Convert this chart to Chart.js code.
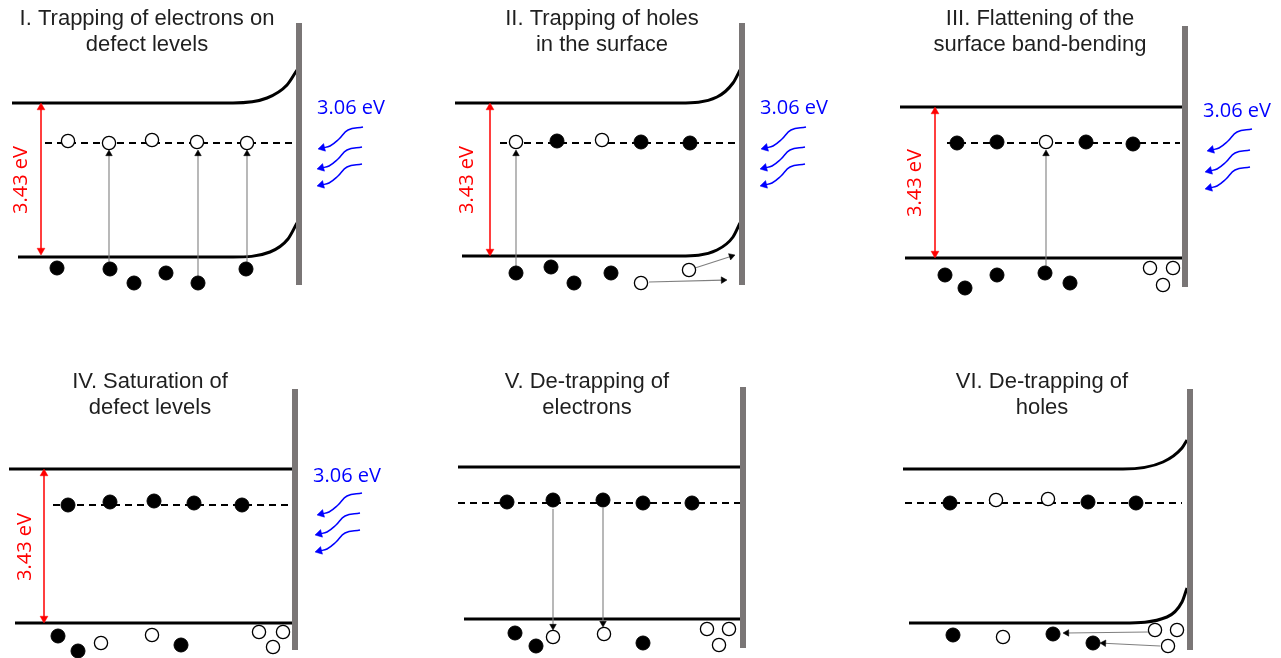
<!DOCTYPE html>
<html>
<head>
<meta charset="utf-8">
<script src="https://cdn.jsdelivr.net/npm/chart.js@4.4.1/dist/chart.umd.min.js"></script>
<style>
    html, body { margin: 0; padding: 0; background: #ffffff; }
    #wrap { width: 1281px; height: 658px; position: relative; }
</style>
</head>
<body>
<div id="wrap"><canvas id="bandChart"></canvas></div>
<script>
// panel headings
const titles = [
    ['I. Trapping of electrons on', 'defect levels'],
    ['II. Trapping of holes', 'in the surface'],
    ['III. Flattening of the', 'surface band-bending'],
    ['IV. Saturation of', 'defect levels'],
    ['V. De-trapping of', 'electrons'],
    ['VI. De-trapping of', 'holes']
];
const titleAnchors = [[147, 25], [602, 25], [1040, 25], [150, 388], [587, 388], [1042, 388]];

// band edges (x, y), one list per panel
const conductionBands = [
    [[12, 103], [233, 103], [267, 98], [287, 85], [297, 70]],
    [[455, 103], [680, 103], [717, 97], [733, 83], [740, 70]],
    [[900, 107], [1185, 107]],
    [[9, 469], [295, 469]],
    [[458, 467], [743, 467]],
    [[903, 469], [1123, 469], [1163, 462], [1182, 448], [1187, 440]]
];
const valenceBands = [
    [[18, 257], [233, 257], [270, 252], [288, 239], [297, 223]],
    [[462, 256], [680, 256], [717, 250], [733, 237], [740, 223]],
    [[905, 258], [1185, 258]],
    [[15, 623], [295, 623]],
    [[464, 619], [743, 619]],
    [[909, 623], [1123, 623], [1167, 617], [1182, 602], [1187, 588]]
];

// surface wall: x, top, bottom
const walls = [[299, 23, 285], [742, 23, 285], [1185, 26, 287], [295, 389, 650], [743, 387, 648], [1190, 389, 650]];

// defect level: x start, x end, y
const defectLines = [[45, 293, 143], [500, 742, 143], [947, 1180, 143], [53, 293, 505], [458, 743, 503], [905, 1182, 503]];

const electrons = [
    [57, 268], [110, 269], [134, 283], [166, 273], [198, 283], [246, 269],
    [557, 141], [641, 142], [690, 143], [516, 273], [551, 267], [574, 283], [611, 273],
    [957, 143], [997, 142], [1086, 142], [1133, 144], [945, 275], [965, 288], [997, 275], [1045, 273], [1070, 283],
    [68, 505], [110, 502], [154, 501], [194, 503], [242, 505], [58, 636], [78, 651], [181, 645],
    [507, 502], [553, 500], [603, 500], [643, 503], [692, 503], [515, 633], [536, 646], [643, 643],
    [950, 503], [1088, 502], [1136, 503], [953, 635], [1053, 634], [1093, 643]
];
const holes = [
    [68, 141], [109, 143], [152, 140], [197, 142], [247, 143],
    [516, 142], [602, 140], [641, 283], [689, 270],
    [1046, 142], [1150, 268], [1173, 268], [1163, 285],
    [101, 643], [152, 635], [259, 632], [283, 632], [273, 647],
    [553, 637], [604, 634], [707, 629], [729, 629], [719, 645],
    [996, 500], [1048, 499], [1003, 637], [1155, 630], [1177, 630], [1168, 646]
];

// carrier transitions: from -> arrow tip
const transitions = [
    [[109, 262], [109, 150]], [[198, 276], [198, 150]], [[247, 262], [247, 150]],
    [[516, 266], [516, 150]], [[649, 282], [727, 280]], [[695, 268], [735, 255]],
    [[1046, 266], [1046, 150]],
    [[553, 509], [553, 630]], [[603, 508], [603, 627]],
    [[1148, 632], [1063, 633]], [[1160, 646], [1100, 643]]
];

// band gap arrows: x, top, bottom
const gapLabel = '3.43 eV';
const bandGaps = [[41, 103, 255], [490, 103, 256], [935, 107, 258], [44, 469, 623]];
const gapLabelAt = [[21, 180], [467, 180], [915, 183], [25, 547]];

// incoming light
const photonLabel = '3.06 eV';
const photonLabelAt = [[317, 114], [760, 114], [1203, 117], [313, 482]];
const photonStarts = [
    [363, 127], [362, 147], [362, 164],
    [806, 127], [805, 147], [805, 164],
    [1252, 129], [1250, 150], [1250, 167],
    [362, 493], [360, 513], [360, 530]
];
const photonWave = [[0, 0], [-15, 3], [-24, 12], [-33, 19], [-45, 22]];

function toXY(list) {
    return list.map(p => ({ x: p[0], y: p[1] }));
}

function lineSet(points, color, width, order, extra) {
    return Object.assign({
        data: toXY(points),
        showLine: true,
        borderColor: color,
        borderWidth: width,
        pointRadius: 0,
        tension: 0,
        order: order
    }, extra || {});
}

// line with a triangle head at the end (and at the start when both is set)
function arrowSet(points, lineColor, headColor, width, head, both, tension) {
    const pts = toXY(points);
    const n = pts.length;
    const radius = pts.map(() => 0);
    const rotation = pts.map(() => 0);

    function pull(i, j) {
        const dx = pts[i].x - pts[j].x;
        const dy = pts[i].y - pts[j].y;
        const len = Math.hypot(dx, dy);
        rotation[i] = Math.atan2(dx, -dy) * 180 / Math.PI;
        radius[i] = head;
        pts[i] = { x: pts[i].x - dx / len * head, y: pts[i].y - dy / len * head };
    }

    pull(n - 1, n - 2);
    if (both) {
        pull(0, 1);
    }

    return {
        data: pts,
        showLine: true,
        borderColor: lineColor,
        borderWidth: width,
        tension: tension || 0,
        pointStyle: 'triangle',
        pointRadius: radius,
        pointRotation: rotation,
        pointBackgroundColor: headColor,
        pointBorderColor: headColor,
        pointBorderWidth: 0.5,
        order: 2
    };
}

const datasets = [];

conductionBands.concat(valenceBands).forEach(band => {
    datasets.push(lineSet(band, '#000000', 3, 3, { cubicInterpolationMode: 'monotone' }));
});

defectLines.forEach(d => {
    datasets.push(lineSet([[d[0], d[2]], [d[1], d[2]]], '#000000', 1.8, 4, { borderDash: [7, 5] }));
});

walls.forEach(w => {
    datasets.push(lineSet([[w[0], w[1]], [w[0], w[2]]], '#7a7676', 6, 1));
});

transitions.forEach(t => {
    datasets.push(arrowSet(t, '#7f7f7f', '#000000', 1.1, 3.8, false));
});

bandGaps.forEach(g => {
    datasets.push(arrowSet([[g[0], g[1]], [g[0], g[2]]], '#ff0000', '#ff0000', 1.5, 4.5, true));
});

photonStarts.forEach(s => {
    const wave = photonWave.map(o => [s[0] + o[0], s[1] + o[1]]);
    datasets.push(arrowSet(wave, '#0000ff', '#0000ff', 1.5, 4.5, false, 0.4));
});

datasets.push({
    data: toXY(electrons),
    pointStyle: 'circle',
    pointRadius: 7,
    pointBackgroundColor: '#000000',
    pointBorderColor: '#000000',
    pointBorderWidth: 1,
    order: 0
});

datasets.push({
    data: toXY(holes),
    pointStyle: 'circle',
    pointRadius: 6.6,
    pointBackgroundColor: '#ffffff',
    pointBorderColor: '#000000',
    pointBorderWidth: 1.3,
    order: 0
});

const panelText = {
    id: 'panelText',
    afterDatasetsDraw(chart) {
        const ctx = chart.ctx;
        const x = chart.scales.x;
        const y = chart.scales.y;

        ctx.save();

        ctx.fillStyle = '#1f1f1f';
        ctx.font = '22px "Liberation Sans", Arial, sans-serif';
        ctx.textAlign = 'center';
        ctx.textBaseline = 'alphabetic';
        titles.forEach((lines, i) => {
            lines.forEach((line, j) => {
                ctx.fillText(line, x.getPixelForValue(titleAnchors[i][0]), y.getPixelForValue(titleAnchors[i][1] + j * 26));
            });
        });

        ctx.fillStyle = '#0000ff';
        ctx.font = '20px "Open Sans", sans-serif';
        ctx.textAlign = 'left';
        photonLabelAt.forEach(p => {
            ctx.fillText(photonLabel, x.getPixelForValue(p[0]), y.getPixelForValue(p[1]));
        });

        ctx.fillStyle = '#ff0000';
        ctx.textAlign = 'center';
        ctx.textBaseline = 'middle';
        gapLabelAt.forEach(p => {
            ctx.save();
            ctx.translate(x.getPixelForValue(p[0]), y.getPixelForValue(p[1]));
            ctx.rotate(-Math.PI / 2);
            ctx.fillText(gapLabel, 0, 0);
            ctx.restore();
        });

        ctx.restore();
    }
};

new Chart(document.getElementById('bandChart').getContext('2d'), {
    type: 'scatter',
    data: { datasets: datasets },
    options: {
        responsive: true,
        maintainAspectRatio: false,
        animation: false,
        events: [],
        layout: { padding: 0, autoPadding: false },
        plugins: {
            legend: { display: false },
            tooltip: { enabled: false }
        },
        scales: {
            x: { type: 'linear', min: 0, max: 1281, display: false },
            y: { type: 'linear', min: 0, max: 658, reverse: true, display: false }
        }
    },
    plugins: [panelText]
});
</script>
</body>
</html>
